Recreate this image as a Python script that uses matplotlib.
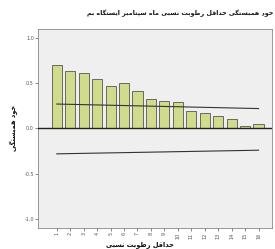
import matplotlib
matplotlib.use("Agg")
import matplotlib.pyplot as plt

# ---- data ----
lags = list(range(1, 17))
acf_values = [0.70, 0.63, 0.61, 0.55, 0.47, 0.50, 0.41, 0.33,
              0.30, 0.29, 0.19, 0.17, 0.14, 0.10, 0.03, 0.055]
conf_lags = [1, 16]
conf_upper = [0.27, 0.22]
conf_lower = [-0.28, -0.24]
y_ticks = [-1.0, -0.5, 0.0, 0.5, 1.0]
y_tick_labels = ["-1.0", "-0.5", "0.0", "0.5", "1.0"]
title_text = "خود همبستگی حداقل رطوبت نسبی ماه سپتامبر ایستگاه بم"
ylabel_text = "خود همبستگی"
xlabel_text = "حداقل رطوبت نسبی"

# ---- minimal Persian shaping (matplotlib has no bidi/shaping) ----
FORMS = {
    'ا': ('\uFE8D', '\uFE8E', None, None),
    'د': ('\uFEA9', '\uFEAA', None, None),
    'ر': ('\uFEAD', '\uFEAE', None, None),
    'و': ('\uFEED', '\uFEEE', None, None),
    'ب': ('\uFE8F', '\uFE90', '\uFE91', '\uFE92'),
    'ت': ('\uFE95', '\uFE96', '\uFE97', '\uFE98'),
    'ح': ('\uFEA1', '\uFEA2', '\uFEA3', '\uFEA4'),
    'خ': ('\uFEA5', '\uFEA6', '\uFEA7', '\uFEA8'),
    'س': ('\uFEB1', '\uFEB2', '\uFEB3', '\uFEB4'),
    'ط': ('\uFEC1', '\uFEC2', '\uFEC3', '\uFEC4'),
    'ق': ('\uFED5', '\uFED6', '\uFED7', '\uFED8'),
    'ل': ('\uFEDD', '\uFEDE', '\uFEDF', '\uFEE0'),
    'م': ('\uFEE1', '\uFEE2', '\uFEE3', '\uFEE4'),
    'ن': ('\uFEE5', '\uFEE6', '\uFEE7', '\uFEE8'),
    'ه': ('\uFEE9', '\uFEEA', '\uFEEB', '\uFEEC'),
    'ی': ('\uFBFC', '\uFBFD', '\uFBFE', '\uFBFF'),
    'گ': ('\uFB92', '\uFB93', '\uFB94', '\uFB95'),
    'پ': ('\uFB56', '\uFB57', '\uFB58', '\uFB59'),
}


def dual(c):
    return c in FORMS and FORMS[c][2] is not None


def shape(text):
    out = []
    n = len(text)
    for i, c in enumerate(text):
        if c not in FORMS:
            out.append(c)
            continue
        prev_j = i > 0 and dual(text[i - 1])
        next_j = dual(c) and i < n - 1 and text[i + 1] in FORMS
        iso, fin, ini, med = FORMS[c]
        if prev_j and next_j:
            out.append(med)
        elif prev_j:
            out.append(fin)
        elif next_j:
            out.append(ini)
        else:
            out.append(iso)
    return "".join(out)[::-1]


plt.rcParams['font.family'] = ['DejaVu Sans']

fig = plt.figure(figsize=(2.75, 2.49), dpi=100)
ax = fig.add_axes([0.138, 0.084, 0.851, 0.800])
ax.set_facecolor('#efefef')

ax.bar(lags, acf_values, width=0.75, color='#d2db8c', edgecolor='#555555',
       linewidth=0.6, zorder=2)
ax.axhline(0, color='#222222', linewidth=1.0, zorder=3)
ax.plot(conf_lags, conf_upper, color='#333333', linewidth=0.8, zorder=3)
ax.plot(conf_lags, conf_lower, color='#333333', linewidth=0.8, zorder=3)

ax.set_xlim(-0.4, 17.0)
ax.set_ylim(-1.1, 1.1)
ax.set_yticks(y_ticks)
ax.set_yticklabels(y_tick_labels)
ax.set_xticks(lags)
ax.set_xticklabels([str(l) for l in lags], rotation=90)
ax.tick_params(axis='both', labelsize=3.5, length=2, width=0.5,
               colors='#555555', pad=1)
for s in ax.spines.values():
    s.set_color('#888888')
    s.set_linewidth(0.6)

fig.text(0.995, 0.948, shape(title_text), ha='right', va='center',
         fontsize=4.6, color='#111111', fontweight='bold')
fig.text(0.05, 0.486, shape(ylabel_text), ha='center', va='center',
         rotation=90, fontsize=4.8, color='#111111', fontweight='bold')
fig.text(0.51, 0.018, shape(xlabel_text), ha='center', va='center',
         fontsize=4.8, color='#111111', fontweight='bold')

fig.savefig('out.png', dpi=100)
